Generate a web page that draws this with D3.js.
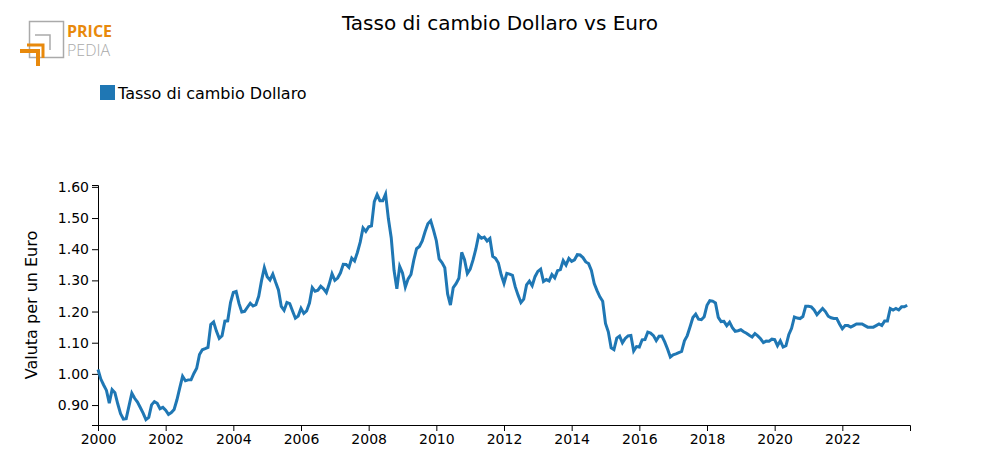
<!DOCTYPE html>
<html><head><meta charset="utf-8">
<script src="https://cdn.jsdelivr.net/npm/d3@7"></script>
<style>body{margin:0;background:#fff;font-family:"DejaVu Sans",sans-serif}</style>
</head><body><svg id="c" width="1000" height="475"></svg>
<script>
const startYear = 2000;
const values = [
1.0139,0.9834,0.9643,0.9470,0.9060,0.9492,0.9397,0.9041,0.8721,0.8552,0.8564,0.8973,
0.9383,0.9217,0.9095,0.8920,0.8742,0.8532,0.8607,0.9005,0.9111,0.9059,0.8883,0.8924,
0.8833,0.8700,0.8758,0.8858,0.9170,0.9554,0.9922,0.9778,0.9808,0.9811,1.0014,1.0183,
1.0622,1.0773,1.0807,1.0848,1.1582,1.1663,1.1372,1.1139,1.1222,1.1692,1.1702,1.2286,
1.2613,1.2646,1.2262,1.1985,1.2007,1.2138,1.2266,1.2176,1.2218,1.2490,1.2991,1.3408,
1.3119,1.3014,1.3201,1.2938,1.2694,1.2165,1.2037,1.2292,1.2256,1.2015,1.1786,1.1856,
1.2103,1.1938,1.2020,1.2271,1.2770,1.2650,1.2684,1.2811,1.2727,1.2611,1.2881,1.3213,
1.2999,1.3074,1.3242,1.3516,1.3511,1.3419,1.3716,1.3622,1.3896,1.4227,1.4684,1.4570,
1.4718,1.4748,1.5527,1.5751,1.5557,1.5553,1.5770,1.4975,1.4370,1.3322,1.2732,1.3449,
1.3239,1.2785,1.3050,1.3190,1.3650,1.4016,1.4088,1.4268,1.4562,1.4816,1.4914,1.4614,
1.4272,1.3686,1.3569,1.3406,1.2565,1.2209,1.2770,1.2894,1.3067,1.3898,1.3661,1.3220,
1.3360,1.3649,1.3999,1.4442,1.4349,1.4388,1.4264,1.4343,1.3770,1.3706,1.3556,1.3179,
1.2905,1.3224,1.3201,1.3162,1.2789,1.2526,1.2288,1.2400,1.2856,1.2974,1.2828,1.3119,
1.3288,1.3359,1.2964,1.3026,1.2982,1.3189,1.3080,1.3310,1.3348,1.3635,1.3493,1.3704,
1.3610,1.3659,1.3823,1.3813,1.3732,1.3592,1.3539,1.3316,1.2901,1.2673,1.2472,1.2331,
1.1621,1.1350,1.0838,1.0779,1.1150,1.1213,1.0996,1.1139,1.1221,1.1235,1.0736,1.0877,
1.0860,1.1093,1.1100,1.1339,1.1311,1.1229,1.1069,1.1206,1.1212,1.1026,1.0799,1.0543,
1.0614,1.0643,1.0685,1.0723,1.1058,1.1229,1.1511,1.1807,1.1915,1.1756,1.1738,1.1836,
1.2200,1.2348,1.2336,1.2276,1.1812,1.1678,1.1686,1.1549,1.1659,1.1484,1.1367,1.1384,
1.1416,1.1351,1.1302,1.1238,1.1185,1.1293,1.1218,1.1126,1.1004,1.1053,1.1051,1.1113,
1.1100,1.0905,1.1063,1.0862,1.0902,1.1255,1.1463,1.1828,1.1792,1.1775,1.1838,1.2170,
1.217,1.215,1.205,1.190,1.200,1.210,1.200,1.185,1.180,1.178,1.178,1.160,
1.145,1.155,1.155,1.150,1.155,1.160,1.160,1.160,1.155,1.150,1.150,1.150,
1.155,1.160,1.155,1.170,1.170,1.210,1.205,1.210,1.205,1.215,1.215,1.220];
const yTicks = [0.9,1.0,1.1,1.2,1.3,1.4,1.5,1.6];
const xTicks = [2000,2002,2004,2006,2008,2010,2012,2014,2016,2018,2020,2022];
const title = "Tasso di cambio Dollaro vs Euro";
const seriesName = "Tasso di cambio Dollaro";
const yLabel = "Valuta per un Euro";

const svg = d3.select("#c");
const x = d3.scaleLinear().domain([2000, 2024.0]).range([98, 910]);
const y = d3.scaleLinear().domain([0.836, 1.606]).range([425, 185]);
const data = values.map((v,i)=>({t:startYear+i/12, v}));

svg.append("text").attr("x",500).attr("y",30).attr("text-anchor","middle")
  .attr("font-size",20).attr("fill","#000").text(title);

// logo
const lg = svg.append("g");
lg.append("rect").attr("x",29.5).attr("y",21.5).attr("width",34).attr("height",36).attr("fill","none").attr("stroke","#aaa").attr("stroke-width",1.5);
lg.append("path").attr("d","M35,35 H50 V50").attr("fill","none").attr("stroke","#aaa").attr("stroke-width",1.5);
lg.append("path").attr("d","M20,51 H38 V66").attr("fill","none").attr("stroke","#e8890c").attr("stroke-width",4);
lg.append("path").attr("d","M27,45 H43 V58").attr("fill","none").attr("stroke","#e8890c").attr("stroke-width",3);
lg.append("text").attr("x",67).attr("y",37).attr("font-size",16).attr("font-weight","bold").attr("fill","#e8890c").attr("font-family","Open Sans, sans-serif").text("PRICE");
lg.append("text").attr("x",67).attr("y",56).attr("font-size",16).attr("fill","#aaa").attr("font-family","Open Sans, sans-serif").attr("font-weight",300).text("PEDIA");

// legend
svg.append("rect").attr("x",100).attr("y",85).attr("width",15).attr("height",15).attr("fill","#1f77b4");
svg.append("text").attr("x",118).attr("y",99).attr("font-size",16).text(seriesName);

svg.append("g").attr("transform","translate(98,0)")
  .call(d3.axisLeft(y).tickValues(yTicks).tickFormat(d3.format(".2f")).tickSizeOuter(6))
  .call(g=>g.selectAll("text").attr("font-size",14).attr("font-family","DejaVu Sans"));
svg.append("g").attr("transform","translate(0,425)")
  .call(d3.axisBottom(x).tickValues(xTicks).tickFormat(d3.format("d")).tickSizeOuter(6))
  .call(g=>g.selectAll("text").attr("font-size",14).attr("font-family","DejaVu Sans"));

svg.append("text").attr("transform","translate(37,305) rotate(-90)").attr("text-anchor","middle")
  .attr("font-size",16).text(yLabel);

svg.append("path").datum(data).attr("fill","none").attr("stroke","#1f77b4").attr("stroke-width",3)
  .attr("d", d3.line().x(d=>x(d.t)).y(d=>y(d.v)));
</script></body></html>
